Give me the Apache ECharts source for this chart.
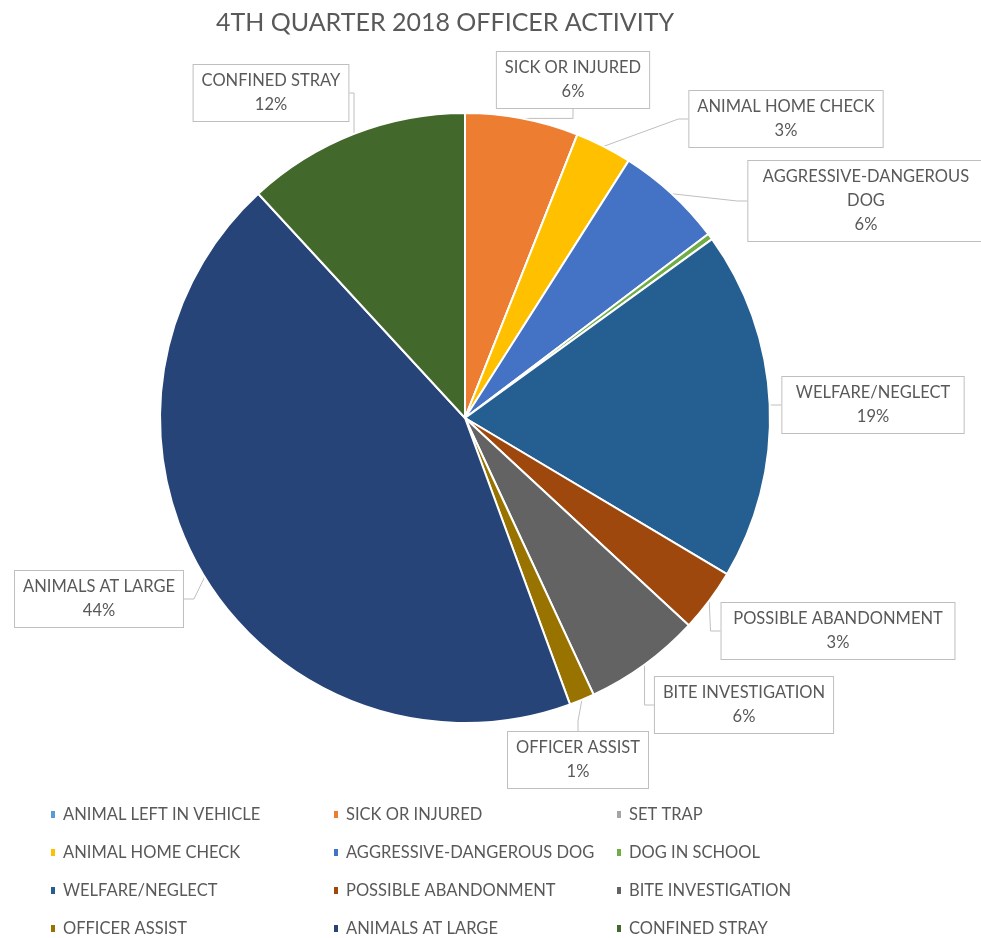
<!DOCTYPE html>
<html>
<head>
<meta charset="utf-8">
<script src="https://cdn.jsdelivr.net/npm/echarts@6/dist/echarts.min.js"></script>
<style>html,body{margin:0;padding:0;background:#fff;}#c{width:981px;height:938px;}</style>
</head>
<body>
<div id="c"></div>
<script>
const categories = ['ANIMAL LEFT IN VEHICLE','SICK OR INJURED','SET TRAP','ANIMAL HOME CHECK','AGGRESSIVE-DANGEROUS DOG','DOG IN SCHOOL','WELFARE/NEGLECT','POSSIBLE ABANDONMENT','BITE INVESTIGATION','OFFICER ASSIST','ANIMALS AT LARGE','CONFINED STRAY'];
const values = [0, 36, 0, 18, 34, 2, 111, 20, 37, 8, 262, 71];
const colors = ['#5B9BD5','#ED7D31','#A5A5A5','#FFC000','#4472C4','#70AD47','#255E91','#9E480E','#636363','#997300','#264478','#43682B'];
const hiddenLabels = ['ANIMAL LEFT IN VEHICLE','SET TRAP','DOG IN SCHOOL'];
const legendCol1 = ['ANIMAL LEFT IN VEHICLE','ANIMAL HOME CHECK','WELFARE/NEGLECT','OFFICER ASSIST'];
const legendCol2 = ['SICK OR INJURED','AGGRESSIVE-DANGEROUS DOG','POSSIBLE ABANDONMENT','ANIMALS AT LARGE'];
const legendCol3 = ['SET TRAP','DOG IN SCHOOL','BITE INVESTIGATION','CONFINED STRAY'];

// label box centres (layout only)
const labelPos = {
  'SICK OR INJURED':[573,80],
  'ANIMAL HOME CHECK':[786,119],
  'AGGRESSIVE-DANGEROUS DOG':[866,201],
  'WELFARE/NEGLECT':[873,405],
  'POSSIBLE ABANDONMENT':[838,631],
  'BITE INVESTIGATION':[744,705],
  'OFFICER ASSIST':[578,760],
  'ANIMALS AT LARGE':[99,599],
  'CONFINED STRAY':[271,93]
};

const FONT = 'Lato';
const txt = '#595959';

const data = categories.map((n,i)=>{
  const d = {name:n, value:values[i], itemStyle:{color:colors[i]}};
  if (hiddenLabels.indexOf(n) >= 0) { d.label = {show:false}; d.labelLine = {show:false}; }
  return d;
});

function legend(names, left){
  return {
    data: names, orient:'vertical', left:left, top:801, height:160, padding:[5,5,5,5], itemGap:21,
    icon:'rect', itemWidth:6, itemHeight:9,
    textStyle:{color:txt, fontSize:16.5, fontFamily:FONT, padding:[0,0,0,2]},
    selectedMode:false
  };
}

const chart = echarts.init(document.getElementById('c'));
chart.setOption({
  animation:false,
  title:{text:'4TH QUARTER 2018 OFFICER ACTIVITY', left:440, textAlign:'center', top:5,
    textStyle:{color:txt, fontSize:25, fontWeight:'normal', fontFamily:FONT}},
  legend:[legend(legendCol1,44), legend(legendCol2,327), legend(legendCol3,610)],
  series:[{
    type:'pie',
    center:[465,418],
    radius:305,
    startAngle:90,
    clockwise:true,
    data:data,
    itemStyle:{borderColor:'#fff', borderWidth:2},
    label:{
      show:true, position:'outside',
      formatter:p=>{
        const nm = p.name === 'AGGRESSIVE-DANGEROUS DOG' ? 'AGGRESSIVE-DANGEROUS\nDOG' : p.name;
        return nm + '\n' + Math.round(p.percent) + '%';
      },
      color:txt, fontSize:16.5, fontFamily:FONT, lineHeight:24, align:'center',
      backgroundColor:'#fff', borderColor:'#BFBFBF', borderWidth:1, padding:[4,8]
    },
    labelLine:{show:true, lineStyle:{color:'#BFBFBF', width:1}, length:10, length2:10},
    labelLayout:function(params){
      const nm = categories[params.dataIndex];
      const p = labelPos[nm];
      if (!p) return {};
      return {x:p[0], y:p[1], align:'center', verticalAlign:'middle'};
    }
  }]
});
</script>
</body>
</html>
